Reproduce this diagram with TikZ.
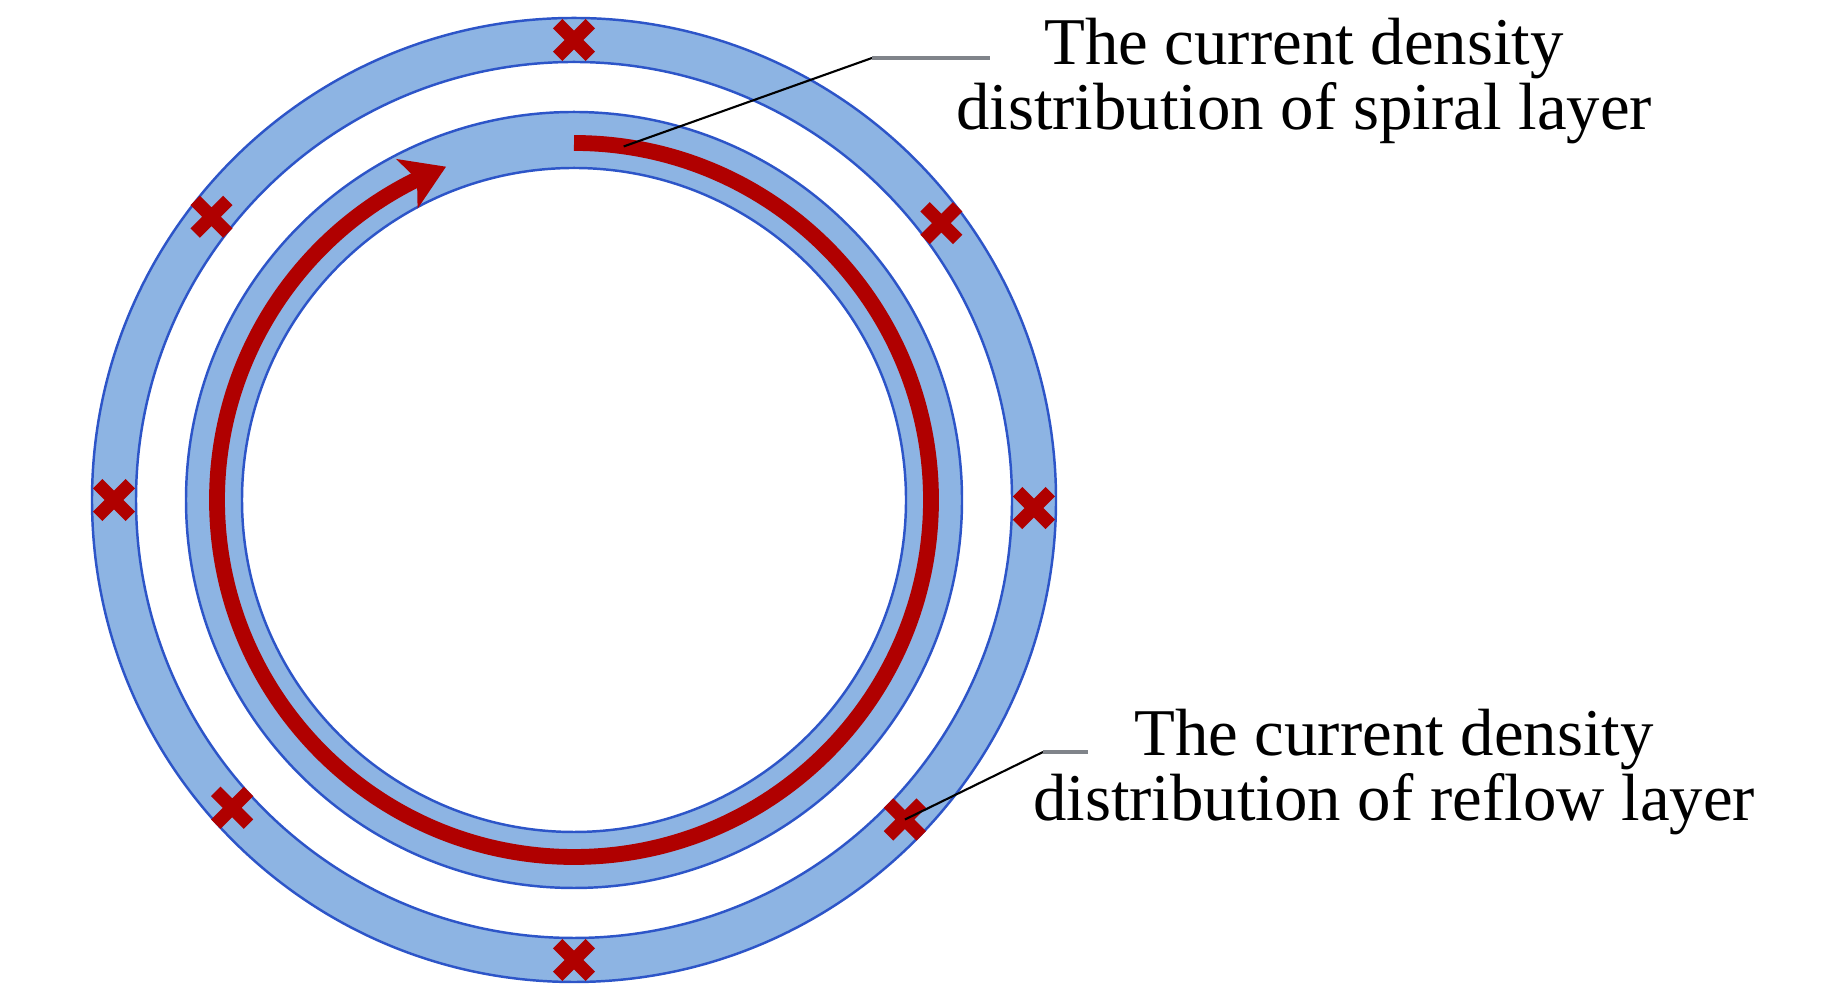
\documentclass[tikz,border=0pt]{standalone}
\usepackage{fontspec}
\setmainfont{Liberation Serif}
\usetikzlibrary{shapes.misc, arrows.meta, bending}
\definecolor{ringblue}{RGB}{141,180,227}
\definecolor{ringedge}{RGB}{45,85,200}
\definecolor{currred}{RGB}{176,0,0}
\definecolor{leadgrey}{RGB}{128,132,138}
\begin{document}
\begin{tikzpicture}[x=0.01cm, y=0.01cm, every node/.style={inner sep=0pt},
  hole/.style={cross out, draw=currred, line width=3.8pt, minimum size=5.5pt},
  ring/.style={fill=ringblue, draw=ringedge, line width=0.7pt, even odd rule},
  label/.style={align=center, font=\fontsize{19pt}{18.4pt}\selectfont}]
  \useasboundingbox (0,0) rectangle (1843,992);
  \coordinate (o) at (574,492);

  % reflow layer and spiral layer
  \path[ring] (o) circle[radius=482] (o) circle[radius=438];
  \path[ring] (o) circle[radius=388] (o) circle[radius=332];

  % current in the spiral layer
  \draw[currred, line width=4.5pt, -{Stealth[length=12pt, width=15pt, inset=3pt, flex]}]
    ([shift={(90:357)}]o) arc[start angle=90, end angle=-249, radius=357];

  % current in the reflow layer
  \node[hole] (h0) at ([shift={(-1:460)}]o) {};
  \node[hole] (h1) at ([shift={(37:460)}]o) {};
  \node[hole] (h2) at ([shift={(90:460)}]o) {};
  \node[hole] (h3) at ([shift={(142:460)}]o) {};
  \node[hole] (h4) at ([shift={(180:460)}]o) {};
  \node[hole] (h5) at ([shift={(222:460)}]o) {};
  \node[hole] (h6) at ([shift={(270:460)}]o) {};
  \node[hole] (h7) at ([shift={(316:460)}]o) {};

  % labels
  \node[label] (t1) at (1304,911) {The current density\\distribution of spiral layer};
  \node[label] (t2) at (1394,220) {The current density\\distribution of reflow layer};

  \coordinate (p1) at ([shift={(82:357)}]o);
  \coordinate (k1) at (872,934);
  \coordinate (k1e) at (990,934);
  \coordinate (k2) at (1043,240);
  \coordinate (k2e) at (1088,240);
  \draw[line width=0.6pt] (p1) -- (k1); \draw[leadgrey, line width=1.1pt] (k1) -- (k1e);
  \draw[line width=0.6pt] (h7.center) -- (k2); \draw[leadgrey, line width=1.1pt] (k2) -- (k2e);
\end{tikzpicture}
\end{document}
